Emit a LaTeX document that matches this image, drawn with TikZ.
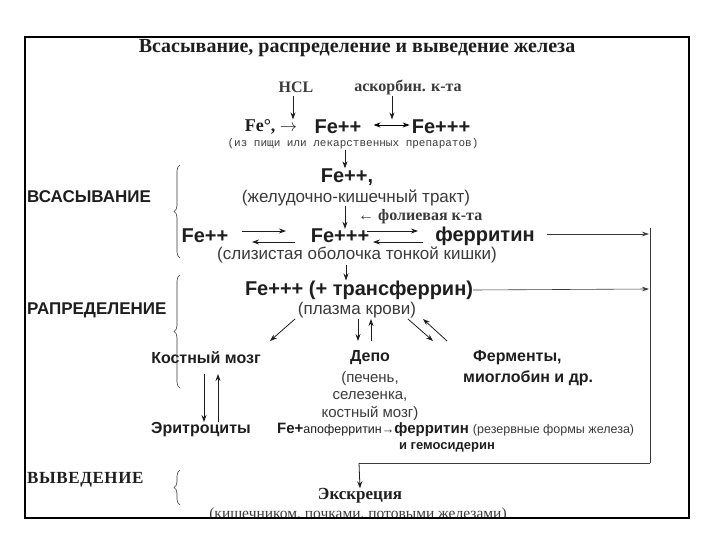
\documentclass[tikz,border=0pt]{standalone}
\usepackage{fontspec}
\setmainfont{Liberation Serif}
\setsansfont{Liberation Sans}
\setmonofont{Liberation Mono}
\usetikzlibrary{arrows.meta,decorations.pathreplacing,calc}
\definecolor{ink}{HTML}{1E1E1E}
\definecolor{pale}{HTML}{3A3A3A}
\tikzset{
  txt/.style={inner sep=0pt, text=ink},
  ttl/.style={txt, font=\rmfamily\bfseries\fontsize{20}{24}\selectfont},
  rb/.style={txt, font=\rmfamily\bfseries\fontsize{16}{18}\selectfont, text=pale},
  big/.style={txt, font=\sffamily\bfseries\fontsize{20}{24}\selectfont},
  mid/.style={txt, font=\sffamily\bfseries\fontsize{16}{18}\selectfont},
  par/.style={txt, font=\sffamily\fontsize{17}{19}\selectfont, text=pale},
  mono/.style={txt, font=\ttfamily\fontsize{11}{13}\selectfont, text=pale},
  sect/.style={txt, anchor=west, font=\sffamily\bfseries\fontsize{17}{19}\selectfont},
  arr/.style={-{Stealth[length=7pt,width=5pt]}, line width=0.8pt, draw=ink},
  thin/.style={line width=0.6pt, draw=pale},
  br/.style={decorate, decoration={brace, amplitude=6pt}, line width=0.6pt, draw=pale}
}
\begin{document}
\begin{tikzpicture}[x=1pt,y=-1pt]
\useasboundingbox (0,0) rectangle (720,540);

\node[ttl] (title) at (357,48) {Всасывание, распределение и выведение железа};

\node[rb] (hcl) at (296,87) {HCL};
\node[rb] (asc) at (408,87) {аскорбин. к-та};
\node[txt, font=\rmfamily\bfseries\fontsize{18}{20}\selectfont] (fe0) at (271,127) {Fe°, $\rightarrow$};
\node[big] (fe2a) at (338,127) {Fe++};
\node[big] (fe3a) at (441,127) {Fe+++};
\node[mono] (src) at (353,144) {(из пищи или лекарственных препаратов)};

\coordinate (h1) at (293,96);
\coordinate (a1) at (392,96);
\draw[arr] (h1) -- (h1 |- fe0.north);
\draw[arr] (a1) -- (a1 |- fe0.north);
\draw[{Stealth[length=7pt,width=5pt]}-{Stealth[length=7pt,width=5pt]}, line width=0.8pt] ($(fe2a.east)+(12,-2)$) -- ($(fe3a.west)+(-2,-2)$);

\node[big] (fe2b) at (347,177) {Fe++,};
\node[par] (git) at (356,198) {(желудочно-кишечный тракт)};
\coordinate (v1) at (345,150);
\draw[arr] (v1) -- (v1 |- fe2b.north);

\node[big] (fe2c) at (205,236) {Fe++};
\node[big] (fe3c) at (340,236) {Fe+++};
\node[big] (ferr) at (485,236) {ферритин};
\node[rb, anchor=west] (fol) at (358,217) {← фолиевая к-та};
\node[par] (muc) at (357,255) {(слизистая оболочка тонкой кишки)};
\coordinate (v2) at (345,206);
\draw[arr] (v2) -- (v2 |- fe3c.north);

\draw[arr] (242,231) -- (286,231);
\draw[arr] (295,242) -- (252,242);
\draw[arr] (367,231) -- (418,231);
\draw[arr] (423,242) -- (373,242);

\node[big] (tf) at (359,290) {Fe+++ (+ трансферрин)};
\node[par] (pl) at (357,310) {(плазма крови)};
\coordinate (v3) at (346,265);
\draw[arr] (v3) -- (v3 |- tf.north);

\coordinate (rv) at (650,228);
\coordinate (rb) at (650,463);
\draw[thin, -{Stealth[length=7pt,width=4.5pt]}] ($(ferr.east)+(12,-2)$) -- (649,234);
\draw[thin, -{Stealth[length=7pt,width=4.5pt]}] (tf.east) -- (649,289);
\draw[thin] (rv) -- (rb);

\node[mid] (km) at (206,358) {Костный мозг};
\node[mid] (depo) at (370,358) {Депо};
\node[par, font=\sffamily\fontsize{15}{17.5}\selectfont, align=center] (dp) at (370,396) {(печень,\\селезенка,\\костный мозг)};
\node[mid, anchor=west] (ferm) at (473,358) {Ферменты,};
\node[mid, anchor=west] (mio) at (463,378) {миоглобин и др.};

\draw[arr] (295,319) -- (270,341);
\draw[arr] (358,319) -- (358,341);
\draw[arr] (371,341) -- (371,319);
\draw[arr] (408,319) -- (433,341);
\draw[arr] (447,341) -- (423,319);

\node[mid] (er) at (201,430) {Эритроциты};
\draw[arr] (204,374) -- (204,422);
\draw[arr] (218,422) -- (218,374);

\node[txt, anchor=west] (fap) at (277,430) {\sffamily\bfseries\fontsize{15}{17}\selectfont Fe+\mdseries\fontsize{12.5}{15}\selectfont апоферритин→\bfseries\fontsize{15}{17}\selectfont ферритин \mdseries\fontsize{12.5}{15}\selectfont\color{pale}(резервные формы железа)};
\node[txt, font=\sffamily\bfseries\fontsize{13}{15}\selectfont] (gem) at (447,447) {и гемосидерин};

\begin{scope}
\clip (0,0) rectangle (720,517);
\node[txt, font=\rmfamily\fontsize{15.5}{18}\selectfont, text=pale] (excp) at (358,515) {(кишечником, почками, потовыми железами)};
\end{scope}
\node[txt, font=\rmfamily\bfseries\fontsize{17}{19}\selectfont] (exc) at (360,496) {Экскреция};
\draw[thin] (rb) -- (359,463) coordinate (eb);
\draw[arr] (eb) -- (exc.north);

\node[sect] (s1) at (27,197) {ВСАСЫВАНИЕ};
\node[sect] (s2) at (27,310) {РАПРЕДЕЛЕНИЕ};
\node[txt, anchor=west, font=\rmfamily\bfseries\fontsize{17}{19}\selectfont\addfontfeatures{LetterSpace=3.5}] (s3) at (27,480) {ВЫВЕДЕНИЕ};
\draw[br] (180,258) -- (180,165);
\draw[br] (180,388) -- (180,275);
\draw[br] (180,505) -- (180,470);

\draw[line width=1.4pt] (25,37) rectangle (689,518);
\end{tikzpicture}
\end{document}
